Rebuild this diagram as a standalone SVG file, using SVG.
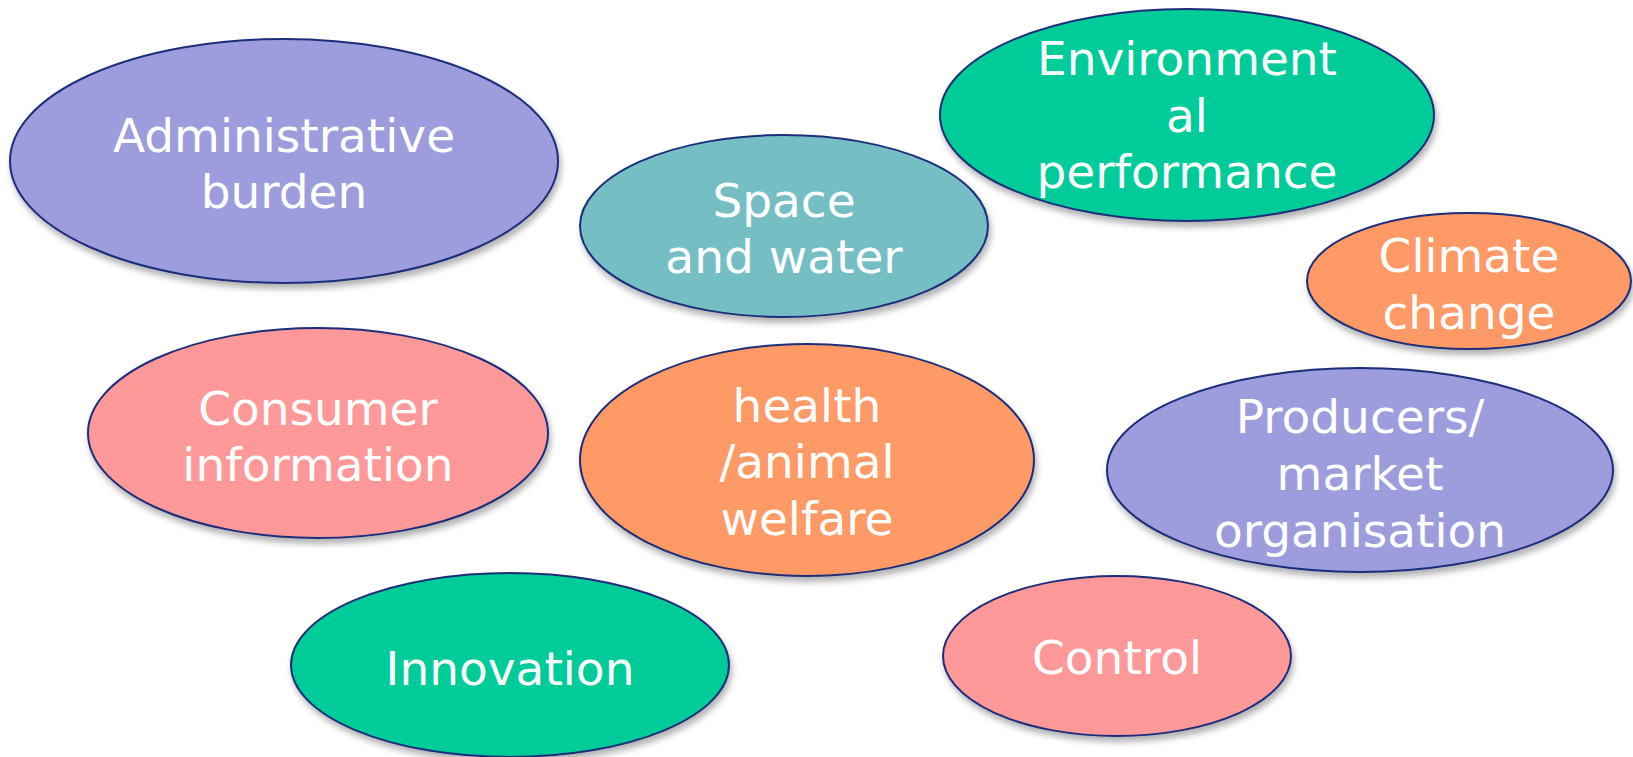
<svg xmlns="http://www.w3.org/2000/svg" width="1633" height="757" viewBox="0 0 1633 757">
<defs>
<filter id="sh" x="-10%" y="-10%" width="120%" height="130%">
<feDropShadow dx="2" dy="5" stdDeviation="3" flood-color="#000" flood-opacity="0.3"/>
</filter>
</defs>
<style>
ellipse{stroke:#1c2f7a;stroke-width:2;filter:url(#sh)}
text{font-family:"DejaVu Sans","Verdana",sans-serif;font-size:47px;fill:#fff;text-anchor:middle}
.p{fill:#9d9cdd}.t{fill:#74bec4}.g{fill:#00cc99}.o{fill:#ff9966}.k{fill:#ff9999}
</style>
<rect width="1633" height="757" fill="#fff"/>
<g id="connectors"></g>
<g id="admin"><ellipse class="p" cx="284" cy="161" rx="274" ry="122"/><text x="284" y="152">Administrative</text><text x="284" y="208">burden</text></g>
<g id="space"><ellipse class="t" cx="784" cy="226" rx="204" ry="91"/><text x="784" y="217">Space</text><text x="784" y="273">and water</text></g>
<g id="env"><ellipse class="g" cx="1187" cy="115" rx="247" ry="106"/><text x="1187" y="75">Environment</text><text x="1187" y="132">al</text><text x="1187" y="188">performance</text></g>
<g id="climate"><ellipse class="o" cx="1469" cy="281" rx="162" ry="68"/><text x="1469" y="272">Climate</text><text x="1469" y="329">change</text></g>
<g id="consumer"><ellipse class="k" cx="318" cy="433" rx="230" ry="105"/><text x="318" y="425">Consumer</text><text x="318" y="481">information</text></g>
<g id="health"><ellipse class="o" cx="807" cy="460" rx="227" ry="116"/><text x="807" y="422">health</text><text x="807" y="478">/animal</text><text x="807" y="535">welfare</text></g>
<g id="producers"><ellipse class="p" cx="1360" cy="470" rx="253" ry="102"/><text x="1360" y="433">Producers/</text><text x="1360" y="490">market</text><text x="1360" y="547">organisation</text></g>
<g id="innovation"><ellipse class="g" cx="510" cy="665" rx="219" ry="92"/><text x="510" y="685">Innovation</text></g>
<g id="control"><ellipse class="k" cx="1117" cy="656" rx="174" ry="80"/><text x="1117" y="674">Control</text></g>
</svg>
